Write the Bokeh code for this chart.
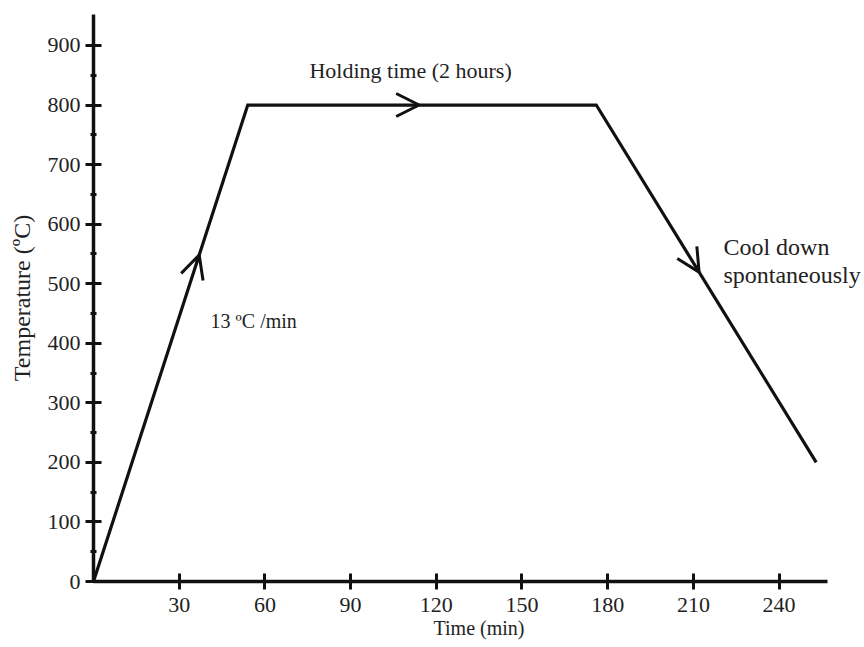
import numpy as np
from bokeh.plotting import figure
from bokeh.models import Range1d, FixedTicker, Label, Arrow, OpenHead
from bokeh.embed import file_html
from bokeh.resources import INLINE

# Heating profile (time in minutes, temperature in degC)
time_min = [0, 54, 176, 253]
temp_c = [0, 800, 800, 200]

x_ticks = [30, 60, 90, 120, 150, 180, 210, 240]
y_ticks = [0, 100, 200, 300, 400, 500, 600, 700, 800, 900]
y_minor = [50, 150, 250, 350, 450, 550, 650, 750, 850]

# where the direction arrows sit along the profile (minutes)
arrow_times = [37, 114, 212]

FONT = "Liberation Serif"
INK = "#111111"
TXT = "#222222"

p = figure(width=864, height=647, output_backend="svg", toolbar_location=None,
           x_range=Range1d(0, 269.9), y_range=Range1d(0, 952),
           min_border_left=93, min_border_right=0, min_border_top=14,
           min_border_bottom=66)
p.outline_line_color = None
p.xgrid.grid_line_color = None
p.ygrid.grid_line_color = None
p.background_fill_color = "white"
p.border_fill_color = "white"

p.line(time_min, temp_c, line_color=INK, line_width=3.2, line_join="miter")

# direction arrows
arrow_y = np.interp(arrow_times, time_min, temp_c)
back_y = np.interp(np.array(arrow_times) - 1.0, time_min, temp_c)
for t, y, yb in zip(arrow_times, arrow_y, back_y):
    p.add_layout(Arrow(end=OpenHead(size=23, line_width=3, line_color=INK),
                       x_start=t - 1.0, y_start=float(yb), x_end=t, y_end=float(y),
                       line_color=INK, line_width=3))

# axes
xa = p.xaxis[0]
xa.ticker = FixedTicker(ticks=x_ticks)
xa.axis_label = "Time (min)"
xa.bounds = (0, 257)
ya = p.yaxis[0]
ya.ticker = FixedTicker(ticks=y_ticks, minor_ticks=y_minor)
ya.axis_label = "Temperature (ºC)"

for ax in (xa, ya):
    ax.axis_line_width = 3.5
    ax.axis_line_color = INK
    ax.major_tick_line_width = 3
    ax.major_tick_line_color = INK
    ax.major_tick_in = 8
    ax.major_tick_out = 8
    ax.major_label_text_font = FONT
    ax.major_label_text_font_size = "22px"
    ax.major_label_text_color = TXT
    ax.axis_label_text_font = FONT
    ax.axis_label_text_font_style = "normal"
    ax.axis_label_text_color = TXT

xa.axis_label_text_font_size = "20px"
ya.axis_label_text_font_size = "24px"
xa.minor_tick_line_color = None
xa.major_label_standoff = 8
xa.axis_label_standoff = 2
ya.minor_tick_line_color = INK
ya.minor_tick_line_width = 3
ya.minor_tick_in = 3
ya.minor_tick_out = 3
ya.major_label_standoff = 5
ya.axis_label_standoff = 10

# annotations
p.add_layout(Label(x=111, y=858, text="Holding time (2 hours)", text_font=FONT,
                   text_font_size="22px", text_color=TXT, text_align="center",
                   text_baseline="middle"))
p.add_layout(Label(x=41, y=438, text="13 ºC /min", text_font=FONT,
                   text_font_size="20px", text_color=TXT, text_align="left",
                   text_baseline="middle"))
p.add_layout(Label(x=220.5, y=561, text="Cool down", text_font=FONT,
                   text_font_size="24px", text_color=TXT, text_align="left",
                   text_baseline="middle"))
p.add_layout(Label(x=220.5, y=514, text="spontaneously", text_font=FONT,
                   text_font_size="24px", text_color=TXT, text_align="left",
                   text_baseline="middle"))

open("out.html", "w").write(file_html(p, INLINE))
